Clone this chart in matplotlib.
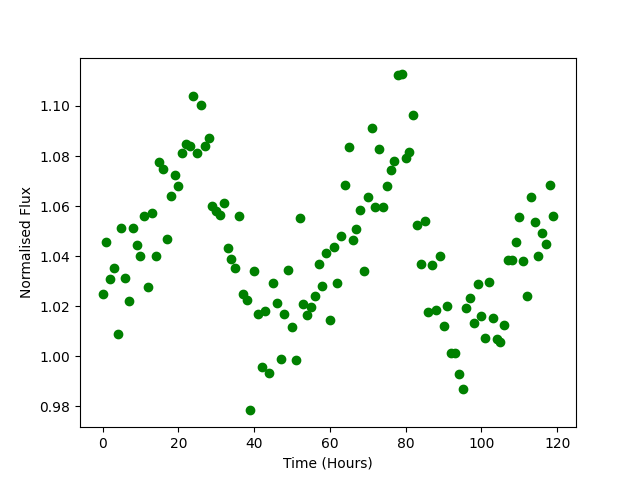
import matplotlib
matplotlib.use("Agg")
import matplotlib.pyplot as plt

hours = [0, 1, 2, 3, 4, 5, 6, 7, 8, 9, 10, 11, 12, 13, 14, 15, 16, 17, 18, 19,
         20, 21, 22, 23, 24, 25, 26, 27, 28, 29, 30, 31, 32, 33, 34, 35, 36, 37, 38, 39,
         40, 41, 42, 43, 44, 45, 46, 47, 48, 49, 50, 51, 52, 53, 54, 55, 56, 57, 58, 59,
         60, 61, 62, 63, 64, 65, 66, 67, 68, 69, 70, 71, 72, 73, 74, 75, 76, 77, 78, 79,
         80, 81, 82, 83, 84, 85, 86, 87, 88, 89, 90, 91, 92, 93, 94, 95, 96, 97, 98, 99,
         100, 101, 102, 103, 104, 105, 106, 107, 108, 109, 110, 111, 112, 113, 114, 115,
         116, 117, 118, 119]

flux = [1.0248, 1.0458, 1.0310, 1.0354, 1.0088, 1.0514, 1.0314, 1.0220, 1.0514, 1.0446,
        1.0400, 1.0562, 1.0278, 1.0574, 1.0402, 1.0778, 1.0750, 1.0470, 1.0642, 1.0726,
        1.0682, 1.0814, 1.0850, 1.0842, 1.1038, 1.0814, 1.1002, 1.0842, 1.0870, 1.0602,
        1.0582, 1.0566, 1.0614, 1.0434, 1.0390, 1.0354, 1.0562, 1.0250, 1.0226, 0.9784,
        1.0342, 1.0170, 0.9958, 1.0182, 0.9934, 1.0294, 1.0214, 0.9990, 1.0170, 1.0346,
        1.0118, 0.9986, 1.0554, 1.0210, 1.0166, 1.0198, 1.0242, 1.0370, 1.0282, 1.0414,
        1.0146, 1.0438, 1.0294, 1.0482, 1.0686, 1.0838, 1.0466, 1.0510, 1.0586, 1.0342,
        1.0638, 1.0910, 1.0598, 1.0830, 1.0598, 1.0682, 1.0746, 1.0782, 1.1122, 1.1126,
        1.0794, 1.0818, 1.0962, 1.0526, 1.0370, 1.0542, 1.0178, 1.0366, 1.0186, 1.0402,
        1.0122, 1.0202, 1.0014, 1.0014, 0.9930, 0.9870, 1.0194, 1.0234, 1.0134, 1.0290,
        1.0162, 1.0074, 1.0298, 1.0154, 1.0070, 1.0058, 1.0126, 1.0386, 1.0386, 1.0458,
        1.0558, 1.0382, 1.0242, 1.0638, 1.0538, 1.0402, 1.0494, 1.0450, 1.0686, 1.0562]

fig, ax = plt.subplots(figsize=(6.4, 4.8), dpi=100)
ax.plot(hours, flux, 'o', color='green')
ax.set_xlabel('Time (Hours)')
ax.set_ylabel('Normalised Flux')
fig.savefig('out.png')
